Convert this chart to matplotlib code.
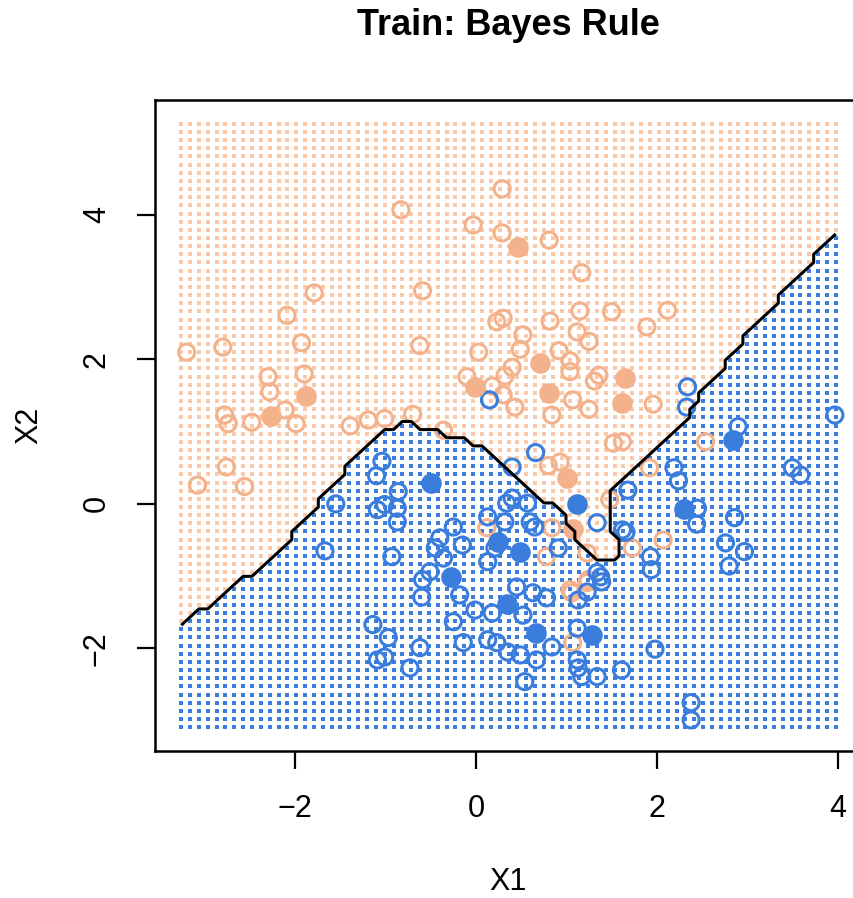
import numpy as np
import matplotlib.pyplot as plt

plt.rcParams['font.family'] = ['Liberation Sans', 'DejaVu Sans']

# centres of the two Gaussian mixtures (10 per class)
orange_mx = [-1.88, -2.27, 0.46, 0.71, -0.01, 0.81, 1.65, 1.61, 1.01, 1.07]
orange_my = [1.49, 1.22, 3.55, 1.95, 1.62, 1.54, 1.74, 1.40, 0.36, -0.35]
blue_mx = [-0.50, -0.28, 0.24, 0.49, 0.34, 0.66, 1.12, 1.28, 2.30, 2.84]
blue_my = [0.29, -1.01, -0.53, -0.66, -1.38, -1.78, 0.00, -1.81, -0.07, 0.89]

# training sample, orange class
orange_x = [0.29, -0.83, -0.03, 0.29, 0.81, 1.17, -1.79, -0.59, -2.09, 1.15,
            1.50, 2.12, 0.30, 0.23, 0.82, 1.89, 1.12, 0.52, 1.25, -2.80,
            -3.20, -1.93, -0.62, 0.03, 0.49, 0.92, 1.04, 0.40, 1.04, -1.90,
            -2.30, -2.28, -0.10, 0.32, 0.18, 0.30, 0.43, 0.84, 1.07, 1.25,
            1.31, 1.36, 1.96, 1.52, 1.62, 2.54, 1.92, -2.78, -2.74, -2.48,
            -2.11, -1.99, -1.39, -1.19, -1.01, -0.70, -2.76, -3.08, -2.56, -0.36,
            0.80, 0.93, 1.48, 2.07, 1.73, 0.78, 1.23, 1.24, 1.04, 1.06,
            1.23, 1.07, 0.12, 0.84]
orange_y = [4.36, 4.07, 3.86, 3.75, 3.65, 3.20, 2.92, 2.95, 2.61, 2.67,
            2.66, 2.68, 2.57, 2.52, 2.53, 2.45, 2.38, 2.34, 2.25, 2.17,
            2.10, 2.23, 2.19, 2.10, 2.14, 2.12, 1.98, 1.89, 1.83, 1.80,
            1.76, 1.55, 1.76, 1.77, 1.63, 1.51, 1.34, 1.23, 1.44, 1.31,
            1.70, 1.78, 1.38, 0.84, 0.86, 0.86, 0.50, 1.23, 1.11, 1.13,
            1.30, 1.11, 1.08, 1.16, 1.18, 1.24, 0.51, 0.26, 0.24, 1.02,
            0.53, 0.58, 0.06, -0.50, -0.61, -0.73, -0.68, -1.05, -1.19, -1.23,
            -1.09, -1.92, -0.33, -0.33]

# training sample, blue class
blue_x = [0.15, 2.34, 2.33, 2.90, 3.97, 0.66, 0.40, -1.04, -1.10, -0.86,
          -1.01, -1.09, -0.87, -0.87, -1.55, -1.67, -0.93, -0.40, -0.45, -0.25,
          -0.15, -0.36, -0.51, -0.59, -0.60, -0.18, -0.01, 0.18, 0.52, 0.45,
          0.63, 0.78, 0.13, 0.34, 0.40, 0.57, 0.60, 0.32, 0.13, 0.21,
          -0.25, -1.14, -0.97, -0.62, -0.14, 0.13, 0.23, 0.35, 0.49, 0.67,
          0.84, 1.12, 1.12, 1.13, 1.17, 1.34, 1.61, -1.09, -1.01, -0.73,
          0.54, 1.39, 1.13, 1.23, 1.98, 2.38, 2.38, 3.50, 3.59, 2.19,
          2.24, 2.45, 2.86, 2.76, 2.97, 1.93, 1.94, 1.38, 1.66, 2.44,
          2.80, 1.68, 0.65, 0.91, 1.34, 1.62, 1.34]
blue_y = [1.44, 1.62, 1.34, 1.07, 1.23, 0.71, 0.51, 0.59, 0.39, 0.17,
          -0.01, -0.08, -0.06, -0.25, 0.00, -0.65, -0.73, -0.47, -0.61, -0.32,
          -0.57, -0.75, -0.94, -1.05, -1.29, -1.26, -1.47, -1.51, -1.54, -1.15,
          -1.23, -1.30, -0.18, 0.01, 0.08, 0.01, -0.25, -0.25, -0.80, -0.61,
          -1.63, -1.67, -1.85, -1.99, -1.92, -1.88, -1.92, -2.05, -2.09, -2.16,
          -1.98, -1.72, -2.16, -2.27, -2.39, -2.39, -2.30, -2.16, -2.12, -2.27,
          -2.46, -1.08, -1.33, -1.22, -2.01, -2.75, -2.99, 0.50, 0.40, 0.50,
          0.32, -0.06, -0.19, -0.54, -0.66, -0.73, -0.91, -1.01, -0.39, -0.28,
          -0.86, 0.19, -0.32, -0.61, -0.95, -0.36, -0.26]

grid_xlim = (-3.26, 3.98)
grid_ylim = (-3.09, 5.26)
n_grid = 75
sigma2 = 0.2

col_orange = '#f4b28c'
col_orange_grid = '#f9c9aa'
col_blue = '#3b7ddd'


def mixture_density(px, py, mx, my):
    d = np.zeros_like(px)
    for a, b in zip(mx, my):
        d += np.exp(-((px - a) ** 2 + (py - b) ** 2) / (2 * sigma2))
    return d


gx = np.linspace(grid_xlim[0], grid_xlim[1], n_grid)
gy = np.linspace(grid_ylim[0], grid_ylim[1], n_grid)
GX, GY = np.meshgrid(gx, gy)
is_orange = mixture_density(GX, GY, orange_mx, orange_my) > mixture_density(GX, GY, blue_mx, blue_my)

fig = plt.figure(figsize=(8.54, 8.98), dpi=100)
ax = fig.add_axes([155 / 854, 147 / 898, 707 / 854, 651 / 898])

# classified grid
g1 = ax.scatter(GX[is_orange], GY[is_orange], marker='s', s=5.5, color=col_orange_grid, linewidths=0)
g2 = ax.scatter(GX[~is_orange], GY[~is_orange], marker='s', s=5.5, color=col_blue, linewidths=0)
g1.set_antialiased(False)
g2.set_antialiased(False)

# training points
ax.scatter(orange_x, orange_y, s=135, facecolors='none', edgecolors=col_orange, linewidths=2.2)
ax.scatter(blue_x, blue_y, s=135, facecolors='none', edgecolors=col_blue, linewidths=2.2)

# mixture centres
ax.scatter(orange_mx, orange_my, s=220, color=col_orange, linewidths=0)
ax.scatter(blue_mx, blue_my, s=220, color=col_blue, linewidths=0)

# Bayes decision boundary
ax.contour(GX, GY, is_orange.astype(float), levels=[0.5], colors='black', linewidths=2.2)

ax.set_xlim(-3.55, 4.27)
ax.set_ylim(-3.42, 5.59)
ax.set_xticks([-2, 0, 2, 4])
ax.set_yticks([-2, 0, 2, 4])
ax.tick_params(length=13, width=1.6, labelsize=22, pad=18)
plt.setp(ax.get_yticklabels(), rotation=90, va='center')
for s in ax.spines.values():
    s.set_linewidth(1.8)

ax.set_xlabel('X1', fontsize=22)
ax.xaxis.set_label_coords(0.5, -0.178)
ax.set_ylabel('X2', fontsize=22)
ax.yaxis.set_label_coords(-0.156, 0.5)
ax.text(0.5, 1.115, 'Train: Bayes Rule', transform=ax.transAxes, ha='center', va='center',
        fontsize=26, fontweight='bold')

fig.savefig('out.png', dpi=100)
